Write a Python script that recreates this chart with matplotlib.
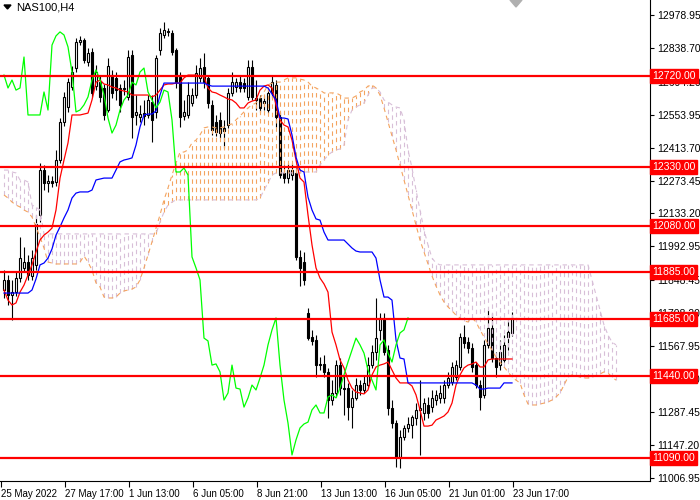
import matplotlib
matplotlib.use("Agg")
import matplotlib.pyplot as plt
import numpy as np
from matplotlib.patches import Polygon

plt.rcParams['font.family'] = ['Liberation Sans', 'DejaVu Sans']

# NAS100 H4 candles, 25 May - 24 Jun 2022
opens = [11807, 11850, 11786, 11798, 11858, 11901, 11926, 11867, 11914, 12127,
         12318, 12263, 12272, 12267, 12361, 12523, 12587, 12672, 12753, 12864,
         12872, 12779, 12821, 12676, 12693, 12668, 12574, 12723, 12711, 12668,
         12668, 12630, 12809, 12553, 12544, 12561, 12553, 12608, 12566, 12830,
         12894, 12907, 12902, 12830, 12715, 12549, 12553, 12604, 12638, 12711,
         12757, 12711, 12596, 12523, 12532, 12498, 12510, 12647, 12672, 12693,
         12689, 12630, 12757, 12617, 12625, 12604, 12574, 12651, 12681, 12544,
         12306, 12284, 12297, 12306, 11948, 11926, 11709, 11607, 11594, 11492,
         11492, 11458, 11338, 11368, 11487, 11389, 11389, 11308, 11347, 11402,
         11381, 11402, 11487, 11543, 11637, 11688, 11551, 11304, 11240, 11095,
         11180, 11219, 11231, 11261, 11296, 11283, 11317, 11308, 11338, 11347,
         11347, 11402, 11415, 11436, 11479, 11607, 11585, 11560, 11487, 11402,
         11360, 11573, 11645, 11517, 11487, 11509, 11607, 11624]
highs = [11892, 11871, 11850, 11884, 12033, 11990, 11956, 11978, 12127, 12348,
         12340, 12297, 12293, 12404, 12540, 12651, 12711, 12762, 12881, 12890,
         12881, 12838, 12838, 12766, 12719, 12685, 12796, 12745, 12736, 12685,
         12702, 12830, 12830, 12638, 12596, 12617, 12638, 12638, 12809, 12924,
         12949, 12924, 12915, 12838, 12736, 12617, 12693, 12668, 12766, 12796,
         12817, 12723, 12617, 12553, 12566, 12532, 12668, 12736, 12711, 12723,
         12711, 12787, 12787, 12702, 12638, 12638, 12668, 12723, 12702, 12566,
         12340, 12348, 12348, 12327, 11978, 11969, 11730, 11637, 11615, 11521,
         11530, 11475, 11423, 11509, 11517, 11445, 11411, 11381, 11432, 11423,
         11445, 11521, 11573, 11773, 11709, 11709, 11573, 11338, 11253, 11210,
         11231, 11266, 11274, 11325, 11423, 11347, 11351, 11381, 11381, 11402,
         11423, 11458, 11500, 11509, 11624, 11658, 11607, 11581, 11500, 11423,
         11594, 11722, 11709, 11543, 11594, 11615, 11679, 11713]
lows = [11773, 11743, 11679, 11781, 11841, 11884, 11850, 11850, 11892, 12097,
        12233, 12225, 12246, 12250, 12348, 12506, 12566, 12659, 12736, 12851,
        12774, 12762, 12630, 12659, 12608, 12532, 12566, 12625, 12617, 12566,
        12638, 12617, 12455, 12510, 12523, 12510, 12540, 12438, 12540, 12809,
        12881, 12890, 12809, 12668, 12502, 12532, 12540, 12591, 12625, 12693,
        12668, 12583, 12468, 12463, 12455, 12412, 12498, 12634, 12651, 12651,
        12651, 12617, 12617, 12574, 12566, 12574, 12561, 12625, 12502, 12284,
        12263, 12263, 12276, 11935, 11824, 11828, 11594, 11573, 11436, 11466,
        11436, 11261, 11317, 11351, 11360, 11274, 11253, 11219, 11338, 11360,
        11368, 11389, 11475, 11509, 11594, 11530, 11274, 11219, 11053, 11048,
        11168, 11202, 11176, 11231, 11104, 11253, 11261, 11287, 11317, 11325,
        11325, 11389, 11402, 11423, 11466, 11560, 11538, 11458, 11389, 11296,
        11347, 11560, 11500, 11436, 11466, 11500, 11551, 11611]
closes = [11850, 11786, 11798, 11858, 11943, 11926, 11871, 11943, 12088, 12318,
          12263, 12272, 12263, 12361, 12523, 12630, 12693, 12736, 12864, 12872,
          12787, 12817, 12647, 12736, 12630, 12553, 12762, 12647, 12659, 12596,
          12664, 12800, 12544, 12566, 12557, 12549, 12617, 12532, 12796, 12902,
          12915, 12911, 12821, 12693, 12544, 12566, 12638, 12638, 12732, 12753,
          12693, 12604, 12489, 12480, 12476, 12485, 12647, 12693, 12693, 12668,
          12668, 12757, 12630, 12625, 12583, 12612, 12647, 12693, 12544, 12297,
          12284, 12318, 12318, 11948, 11901, 11850, 11602, 11590, 11487, 11487,
          11458, 11338, 11368, 11487, 11389, 11385, 11308, 11347, 11402, 11381,
          11411, 11487, 11543, 11602, 11688, 11543, 11304, 11240, 11095, 11180,
          11219, 11236, 11266, 11296, 11304, 11325, 11283, 11347, 11360, 11368,
          11402, 11432, 11479, 11487, 11607, 11581, 11560, 11479, 11402, 11351,
          11573, 11645, 11517, 11479, 11543, 11573, 11628, 11688]

# Ichimoku lines as drawn on the chart
tenkan = [11807, 11764, 11743, 11752, 11798, 11828, 11871, 11914, 11969, 12020,
          12041, 12054, 12071, 12148, 12284, 12361, 12434, 12553, 12553, 12553,
          12557, 12561, 12617, 12693, 12702, 12685, 12681, 12672, 12668, 12659,
          12655, 12651, 12638, 12638, 12638, 12638, 12638, 12630, 12638, 12659,
          12681, 12685, 12685, 12689, 12689, 12711, 12723, 12723, 12723, 12719,
          12715, 12668, 12651, 12647, 12638, 12630, 12621, 12617, 12604, 12583,
          12583, 12604, 12612, 12617, 12659, 12676, 12681, 12668, 12596, 12532,
          12510, 12502, 12446, 12361, 12284, 12267, 12127, 11999, 11901, 11858,
          11833, 11798, 11628, 11573, 11509, 11475, 11423, 11389, 11372, 11368,
          11364, 11381, 11445, 11479, 11487, 11492, 11500, 11466, 11432, 11411,
          11411, 11411, 11398, 11360, 11296, 11227, 11227, 11231, 11253, 11261,
          11270, 11287, 11325, 11402, 11445, 11475, 11487, 11492, 11500, 11479,
          11479, 11509, 11513, 11513, 11513, 11513, 11513, 11513]
kijun = [11794, 11794, 11794, 11794, 11794, 11794, 11794, 11807, 11854, 11914,
         11922, 11943, 11982, 12041, 12076, 12114, 12148, 12199, 12220, 12225,
         12225, 12225, 12233, 12276, 12280, 12284, 12284, 12284, 12318, 12353,
         12361, 12365, 12370, 12425, 12502, 12553, 12557, 12557, 12570, 12638,
         12689, 12689, 12689, 12689, 12689, 12689, 12689, 12689, 12689, 12689,
         12689, 12681, 12676, 12676, 12676, 12676, 12676, 12676, 12676, 12676,
         12676, 12676, 12676, 12676, 12676, 12676, 12668, 12642, 12617, 12540,
         12540, 12536, 12468, 12374, 12318, 12310, 12203, 12148, 12110, 12105,
         12054, 12020, 12020, 12020, 12020, 12020, 12003, 11986, 11973, 11969,
         11969, 11969, 11969, 11943, 11850, 11777, 11777, 11764, 11594, 11517,
         11513, 11411, 11411, 11411, 11411, 11411, 11411, 11411, 11411, 11411,
         11411, 11411, 11411, 11411, 11411, 11411, 11411, 11411, 11402, 11385,
         11385, 11389, 11389, 11389, 11389, 11411, 11411, 11411]
chikou = [12723, 12668, 12702, 12659, 12668, 12800, 12553, 12553, 12553, 12553,
          12651, 12574, 12851, 12890, 12907, 12894, 12843, 12736, 12566, 12574,
          12596, 12630, 12702, 12745, 12702, 12638, 12540, 12476, 12510, 12574,
          12617, 12638, 12693, 12681, 12736, 12753, 12651, 12617, 12583, 12608,
          12659, 12651, 12532, 12310, 12310, 12327, 12297, 11948, 11901, 11850,
          11602, 11590, 11487, 11492, 11458, 11338, 11368, 11487, 11389, 11385,
          11308, 11347, 11402, 11381, 11432, 11487, 11573, 11637, 11688, 11487,
          11338, 11240, 11104, 11168, 11219, 11236, 11244, 11296, 11317, 11283,
          11283, 11351, 11360, 11347, 11389, 11445, 11500, 11551, 11602, 11573,
          11538, 11466, 11423, 11381, 11573, 11594, 11538, 11500, 11573, 11624,
          11637, 11688]
span_a = [12212, 12199, 12182, 12169, 12161, 12148, 12139, 12118, 12076, 12033,
          11986, 11926, 11922, 11918, 11918, 11918, 11918, 11918, 11918, 11926,
          11952, 11926, 11892, 11837, 11820, 11777, 11773, 11773, 11777, 11794,
          11803, 11807, 11811, 11820, 11850, 11901, 11956, 12012, 12071, 12127,
          12191, 12242, 12297, 12348, 12395, 12395, 12404, 12434, 12446, 12468,
          12498, 12502, 12502, 12498, 12498, 12502, 12510, 12515, 12532, 12549,
          12566, 12583, 12596, 12604, 12625, 12651, 12681, 12689, 12693, 12693,
          12702, 12711, 12711, 12711, 12706, 12702, 12693, 12676, 12668, 12659,
          12647, 12647, 12647, 12647, 12638, 12625, 12625, 12625, 12634, 12651,
          12659, 12676, 12681, 12668, 12638, 12583, 12523, 12463, 12404, 12340,
          12276, 12212, 12148, 12084, 12020, 11969, 11918, 11867, 11824, 11786,
          11756, 11735, 11718, 11700, 11688, 11675, 11671, 11688, 11671, 11637,
          11607, 11577, 11551, 11521, 11500, 11479, 11458, 11436, 11423, 11411,
          11360, 11321, 11317, 11317, 11321, 11325, 11330, 11338, 11351, 11368,
          11402, 11436, 11445, 11441, 11436, 11432, 11432, 11436, 11441, 11449,
          11458, 11453, 11436, 11423]
span_b = [12318, 12318, 12310, 12306, 12276, 12276, 12267, 12169, 12161, 12148,
          12046, 12046, 12046, 12046, 12046, 12046, 12046, 12046, 12046, 12046,
          12046, 12046, 12046, 12046, 12046, 12046, 12046, 12046, 12046, 12046,
          12046, 12046, 12046, 12046, 12046, 12046, 12046, 12046, 12046, 12097,
          12139, 12169, 12182, 12191, 12191, 12191, 12191, 12191, 12191, 12191,
          12191, 12191, 12191, 12191, 12191, 12191, 12191, 12191, 12191, 12191,
          12191, 12191, 12191, 12191, 12199, 12233, 12263, 12297, 12306, 12306,
          12306, 12306, 12306, 12306, 12306, 12310, 12310, 12310, 12310, 12340,
          12361, 12382, 12395, 12404, 12408, 12425, 12532, 12574, 12587, 12596,
          12604, 12638, 12668, 12668, 12651, 12617, 12608, 12596, 12587, 12583,
          12532, 12404, 12327, 12233, 12148, 12063, 11999, 11943, 11922, 11914,
          11914, 11914, 11914, 11914, 11914, 11914, 11914, 11914, 11914, 11914,
          11914, 11914, 11914, 11914, 11914, 11914, 11914, 11914, 11914, 11914,
          11914, 11914, 11914, 11914, 11914, 11914, 11914, 11914, 11914, 11914,
          11914, 11914, 11914, 11914, 11914, 11914, 11914, 11850, 11786, 11722,
          11658, 11615, 11585, 11573]

levels = [12720, 12330, 12080, 11885, 11685, 11440, 11090]
price_ticks = [12978.95, 12838.70, 12694.20, 12553.95, 12413.70, 12273.45,
               12133.20, 11992.95, 11848.45, 11708.20, 11567.95, 11427.70,
               11287.45, 11147.20, 11006.95]
date_labels = ['25 May 2022', '27 May 17:00', '1 Jun 13:00', '6 Jun 05:00',
               '8 Jun 21:00', '13 Jun 13:00', '16 Jun 05:00', '21 Jun 01:00',
               '23 Jun 17:00']

fig = plt.figure(figsize=(7, 5), dpi=100)
ax = fig.add_axes([0, 19 / 500, 650 / 700, 481 / 500])

o = np.array(opens)
h = np.array(highs)
l = np.array(lows)
c = np.array(closes)
x = np.arange(len(o))

# candles
ax.vlines(x, l, h, color='black', lw=0.8, zorder=2)
bull = c >= o
body_lo = np.minimum(o, c)
body_h = np.maximum(np.abs(c - o), 2)
ax.bar(x[bull], body_h[bull], bottom=body_lo[bull], width=0.65,
       color='white', edgecolor='black', linewidth=0.8, zorder=3)
ax.bar(x[~bull], body_h[~bull], bottom=body_lo[~bull], width=0.65,
       color='black', edgecolor='black', linewidth=0.8, zorder=3)

# kumo, hatched with dotted histogram lines
sa = np.array(span_a)
sb = np.array(span_b)
xc = np.arange(len(sa))
orange = '#F4A460'
thistle = '#D8BFD8'
cols = [orange if a >= b else thistle for a, b in zip(sa, sb)]
dash = (0, (4, 3.5))
ax.vlines(xc, np.minimum(sa, sb), np.maximum(sa, sb), colors=cols,
          linestyles=[dash], lw=0.8, zorder=3.5)
ax.plot(xc, sa, color=orange, lw=0.8, linestyle=dash, zorder=3.6)
ax.plot(xc, sb, color=thistle, lw=0.8, linestyle=dash, zorder=3.6)

# tenkan / kijun / chikou
ax.plot(x, tenkan, color='#FF0000', lw=0.9, zorder=4)
ax.plot(x, kijun, color='#0000FF', lw=0.9, zorder=4)
ax.plot(np.arange(len(chikou)), chikou, color='#00FF00', lw=0.9, zorder=4)

# support / resistance levels
for lv in levels:
    ax.axhline(lv, color='#FF0000', lw=1.6, zorder=5)
    ax.text(1.003, lv, f"{lv:.2f}", transform=ax.get_yaxis_transform(),
            ha='left', va='center', color='white', fontsize=7.5, zorder=10,
            clip_on=False,
            bbox=dict(boxstyle='square,pad=0.2', fc='#FF0000', ec='#FF0000'))

ax.set_xlim(-1, 161.5)
ax.set_ylim(10993, 13043)

for s in ['left', 'top']:
    ax.spines[s].set_visible(False)
for s in ['right', 'bottom']:
    ax.spines[s].set_linewidth(0.8)

ax.yaxis.tick_right()
ax.set_yticks(price_ticks)
ax.set_yticklabels([f"{v:.2f}" for v in price_ticks])
ax.tick_params(axis='y', direction='out', length=3, width=0.8, pad=2,
               labelsize=7.5)

ax.set_xticks([16 * j - 0.75 for j in range(len(date_labels))])
ax.set_xticklabels(date_labels)
ax.tick_params(axis='x', direction='out', length=4, width=0.8, pad=1.5,
               labelsize=7)
for lbl in ax.get_xticklabels():
    lbl.set_ha('left')

# symbol caption and chart-shift marker
fig.text(16 / 700, 1 - 8 / 500, 'NAS100,H4', fontsize=8, color='black',
         ha='left', va='center')
fig.add_artist(Polygon([[4 / 700, 1 - 5 / 500], [11 / 700, 1 - 5 / 500],
                        [7.5 / 700, 1 - 9 / 500]], closed=True,
                       transform=fig.transFigure, color='black'))
fig.add_artist(Polygon([[510 / 700, 1.0], [522 / 700, 1.0],
                        [516 / 700, 1 - 7 / 500]], closed=True,
                       transform=fig.transFigure, color='#B0B0B0'))

fig.savefig('out.png', dpi=100)
